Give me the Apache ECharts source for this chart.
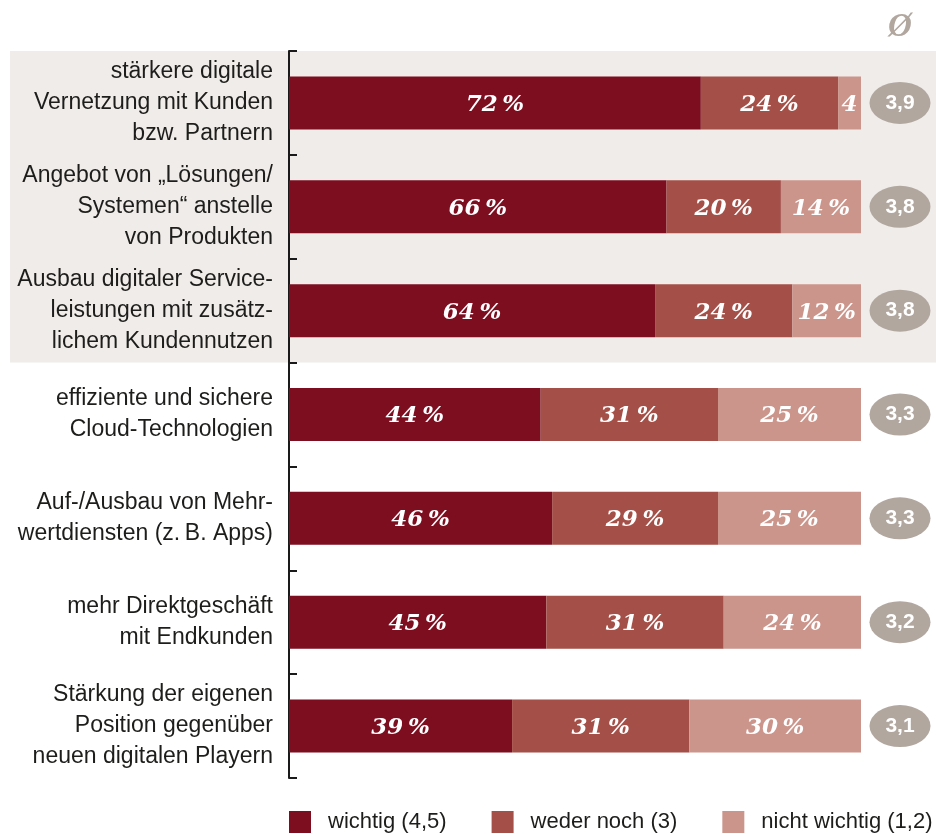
<!DOCTYPE html>
<html>
<head>
<meta charset="utf-8">
<script src="https://cdn.jsdelivr.net/npm/echarts@6/dist/echarts.min.js"></script>
<style>
html,body{margin:0;padding:0;background:#fff;}
#chart{width:936px;height:834px;}
</style>
</head>
<body>
<div id="chart"></div>
<script>
const categories = [
  'stärkere digitale\nVernetzung mit Kunden\nbzw. Partnern',
  'Angebot von „Lösungen/\nSystemen“ anstelle\nvon Produkten',
  'Ausbau digitaler Service-\nleistungen mit zusätz-\nlichem Kundennutzen',
  'effiziente und sichere\nCloud-Technologien',
  'Auf-/Ausbau von Mehr-\nwertdiensten (z.\u2009B. Apps)',
  'mehr Direktgeschäft\nmit Endkunden',
  'Stärkung der eigenen\nPosition gegenüber\nneuen digitalen Playern'
];
const wichtig = [72, 66, 64, 44, 46, 45, 39];
const wederNoch = [24, 20, 24, 31, 29, 31, 31];
const nichtWichtig = [4, 14, 12, 25, 25, 24, 30];
const averages = [3.9, 3.8, 3.8, 3.3, 3.3, 3.2, 3.1];
const seriesNames = ['wichtig (4,5)', 'weder noch (3)', 'nicht wichtig (1,2)'];
const avgHeader = 'Ø';
const highlightedCount = 3;

const colors = ['#7d0e20', '#a44f47', '#cb958b'];
const badgeColor = '#b1a79f';

const gridTop = 51, gridBottom = 56, chartH = 834;
const plotH = chartH - gridTop - gridBottom;

const chart = echarts.init(document.getElementById('chart'), null, {renderer: 'canvas'});

const barLabel = {
  show: true,
  position: 'inside',
  offset: [0, 2],
  color: '#ffffff',
  fontFamily: 'DejaVu Serif',
  fontStyle: 'italic',
  fontWeight: 'bold',
  fontSize: 23,
  formatter: p => (p.value < 5 ? String(p.value) : p.value + '\u2009%')
};

function barSeries(name, data, color) {
  return {
    name: name,
    type: 'bar',
    stack: 'total',
    data: data,
    barWidth: 53,
    itemStyle: {color: color},
    label: barLabel,
    emphasis: {disabled: true},
    z: 3
  };
}

const option = {
  animation: false,
  backgroundColor: '#ffffff',
  graphic: [{
    type: 'rect',
    z: -10,
    silent: true,
    shape: {x: 10, y: gridTop, width: 926, height: plotH * highlightedCount / categories.length},
    style: {fill: '#f0ecea'}
  }],
  legend: {
    left: 289,
    top: 811,
    padding: 0,
    itemWidth: 22,
    itemHeight: 22,
    itemGap: 45,
    icon: 'rect',
    selectedMode: false,
    data: seriesNames,
    textStyle: {
      fontFamily: 'Liberation Sans',
      fontSize: 22,
      color: '#1d1d1b',
      padding: [0, 0, 0, 12]
    }
  },
  grid: [
    {left: 289, right: 75, top: gridTop, bottom: gridBottom, containLabel: false},
    {left: 870, width: 60, top: gridTop, bottom: gridBottom, containLabel: false}
  ],
  xAxis: [
    {
      type: 'value', gridIndex: 0, min: 0, max: 100,
      show: false
    },
    {
      type: 'category', gridIndex: 1, position: 'top',
      data: [avgHeader],
      axisLine: {show: false}, axisTick: {show: false}, splitLine: {show: false},
      axisLabel: {
        margin: 7,
        fontFamily: 'Liberation Serif',
        fontStyle: 'italic',
        fontWeight: 'bold',
        fontSize: 33,
        color: badgeColor
      }
    }
  ],
  yAxis: [
    {
      type: 'category', gridIndex: 0, inverse: true,
      data: categories,
      axisLine: {show: true, lineStyle: {color: '#1a1a1a', width: 2}},
      axisTick: {show: true, inside: true, length: 8, lineStyle: {color: '#1a1a1a', width: 2}},
      axisLabel: {
        interval: 0,
        hideOverlap: false,
        margin: 16,
        fontFamily: 'Liberation Sans',
        fontSize: 23,
        lineHeight: 31,
        backgroundColor: 'rgba(0,0,0,0)',
        padding: [8, 0, 0, 0],
        color: '#1d1d1b',
        align: 'right'
      }
    },
    {
      type: 'category', gridIndex: 1, inverse: true,
      data: categories,
      show: false
    }
  ],
  series: [
    barSeries(seriesNames[0], wichtig, colors[0]),
    barSeries(seriesNames[1], wederNoch, colors[1]),
    barSeries(seriesNames[2], nichtWichtig, colors[2]),
    {
      type: 'scatter',
      xAxisIndex: 1,
      yAxisIndex: 1,
      symbol: 'path://M0,21 A30,21 0 1,1 60,21 A30,21 0 1,1 0,21 Z',
      symbolSize: [61, 42],
      itemStyle: {color: badgeColor, opacity: 1},
      emphasis: {disabled: true},
      label: {
        show: true,
        position: 'inside',
        color: '#ffffff',
        fontFamily: 'Liberation Sans',
        fontWeight: 'bold',
        fontSize: 21,
        formatter: p => p.value[2]
      },
      data: averages.map((v, i) => [avgHeader, i, v.toFixed(1).replace('.', ',')])
    }
  ]
};

chart.setOption(option);
</script>
</body>
</html>
